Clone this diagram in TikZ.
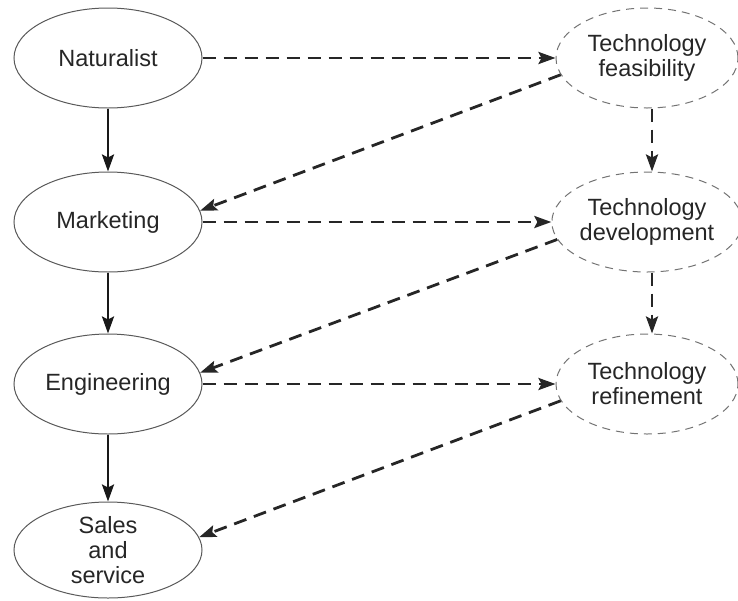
\documentclass[tikz,border=0pt]{standalone}
\usepackage{fontspec}
\setmainfont{Liberation Sans}
\usetikzlibrary{shapes.geometric,arrows.meta}
\begin{document}
\begin{tikzpicture}[x=1pt,y=-1pt,
  every node/.style={font=\fontsize{23.5}{25}\selectfont, align=center, text=black!85},
  stage/.style={ellipse, draw=black!65, line width=1pt, minimum width=188pt, minimum height=100pt, inner sep=0pt},
  tech/.style={ellipse, draw=black!55, line width=1pt, dash pattern=on 8pt off 6pt, minimum width=182pt, minimum height=100pt, inner sep=0pt},
  flow/.style={line width=2.6pt, draw=black!90, -{Stealth[length=17pt,width=12pt,inset=3pt]}},
  feed/.style={line width=2.8pt, draw=black!85, dash pattern=on 13pt off 8pt, -{Stealth[length=17pt,width=12pt,inset=3pt]}}
]
\useasboundingbox (0,0) rectangle (738,600);

% product line stages
\node[stage] (nat) at (108,58) {Naturalist};
\node[stage] (mkt) at (108,222) {Marketing};
\node[stage] (eng) at (108,384) {Engineering};
\node[stage, minimum height=96pt] (sal) at (108,550) {Sales\\and\\service};

% technology stages
\node[tech] (fea) at (647,58) {Technology\\feasibility};
\node[tech] (dev) at (647,222) {Technology\\development};
\node[tech] (ref) at (647,384) {Technology\\refinement};

% main flow
\draw[flow] (nat.south) -- (mkt.north);
\draw[flow] (mkt.south) -- (eng.north);
\draw[flow] (eng.south) -- (sal.north);

% handoffs to technology
\draw[feed] (nat.east) -- (fea.west);
\draw[feed] (mkt.east) -- (dev.west);
\draw[feed] (eng.east) -- (ref.west);

% technology progression
\draw[feed] (fea.south -| 652,0) -- (dev.north -| 652,0);
\draw[feed] (dev.south -| 652,0) -- (ref.north -| 652,0);

% technology back to the product line
\draw[feed] (fea.191) -- (mkt.7);
\draw[feed] (dev.191) -- (eng.7);
\draw[feed] (ref.191) -- (sal.8);
\end{tikzpicture}
\end{document}
